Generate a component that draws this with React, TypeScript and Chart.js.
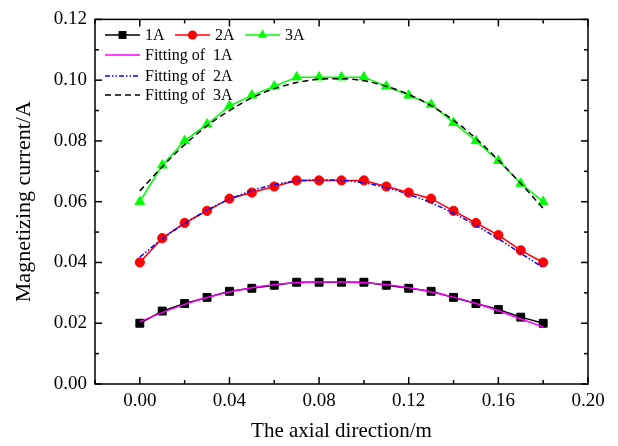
import React, { useEffect, useRef } from "react";
import { Chart, registerables } from "chart.js";

Chart.register(...registerables);

// ---- data ----
const positions = [0, 0.01, 0.02, 0.03, 0.04, 0.05, 0.06, 0.07, 0.08, 0.09, 0.1, 0.11, 0.12, 0.13, 0.14, 0.15, 0.16, 0.17, 0.18];

const current1A = [0.020, 0.024, 0.0265, 0.0285, 0.0305, 0.0315, 0.0325, 0.0335, 0.0335, 0.0335, 0.0335, 0.0325, 0.0315, 0.0305, 0.0285, 0.0265, 0.0245, 0.022, 0.020];
const current2A = [0.040, 0.048, 0.053, 0.057, 0.061, 0.063, 0.065, 0.067, 0.067, 0.067, 0.067, 0.065, 0.063, 0.061, 0.057, 0.053, 0.049, 0.044, 0.040];
const current3A = [0.060, 0.072, 0.080, 0.0855, 0.0915, 0.095, 0.098, 0.101, 0.101, 0.101, 0.101, 0.098, 0.095, 0.092, 0.086, 0.080, 0.0735, 0.066, 0.060];

const fit1A = [0.0205, 0.0235, 0.0262, 0.0285, 0.0303, 0.0317, 0.0327, 0.0333, 0.0336, 0.0336, 0.0333, 0.0327, 0.0317, 0.0303, 0.0286, 0.0265, 0.0241, 0.0214, 0.0188];
const fit2A = [0.0418, 0.0477, 0.0528, 0.0572, 0.0608, 0.0636, 0.0656, 0.0668, 0.0672, 0.0670, 0.0662, 0.0646, 0.0624, 0.0596, 0.0562, 0.0522, 0.0478, 0.0430, 0.0383];
const fit3A = [0.0635, 0.0715, 0.0788, 0.0850, 0.0900, 0.0942, 0.0972, 0.0992, 0.1003, 0.1005, 0.0998, 0.0980, 0.0953, 0.0916, 0.0868, 0.0808, 0.0737, 0.0660, 0.0578];

const xTickValues = [0, 0.04, 0.08, 0.12, 0.16, 0.2];
const xMinorValues = [-0.02, 0.02, 0.06, 0.1, 0.14, 0.18];
const yTickValues = [0, 0.02, 0.04, 0.06, 0.08, 0.1, 0.12];
const yMinorValues = [0.01, 0.03, 0.05, 0.07, 0.09, 0.11];

const FONT = "'Liberation Serif', 'Times New Roman', serif";

const toPoints = (vals: number[]) => positions.map((p, i) => ({ x: p, y: vals[i] }));

type LegendItem = { label: string; color: string; dash: number[]; marker?: string; radius?: number };

const legendRow1: LegendItem[] = [
  { label: "1A", color: "#000000", dash: [], marker: "rect", radius: 5.6 },
  { label: "2A", color: "#ff0000", dash: [], marker: "circle", radius: 4.6 },
  { label: "3A", color: "#00ff00", dash: [], marker: "triangle", radius: 5.5 },
];
const legendRows: LegendItem[] = [
  { label: "Fitting of  1A", color: "#ff00ff", dash: [] },
  { label: "Fitting of  2A", color: "#0000ff", dash: [5, 2, 1.5, 2, 1.5, 2] },
  { label: "Fitting of  3A", color: "#000000", dash: [6, 4] },
];

const framePlugin = {
  id: "frameTicks",
  afterDatasetsDraw(chart: any) {
    const { ctx, chartArea, scales } = chart;
    const { left, right, top, bottom } = chartArea;
    const x = scales.x;
    const y = scales.y;
    ctx.save();
    ctx.strokeStyle = "#000";
    ctx.lineWidth = 1.5;
    ctx.setLineDash([]);
    ctx.strokeRect(left, top, right - left, bottom - top);
    const line = (x1: number, y1: number, x2: number, y2: number) => {
      ctx.beginPath();
      ctx.moveTo(x1, y1);
      ctx.lineTo(x2, y2);
      ctx.stroke();
    };
    const major = 7;
    const minor = 4;
    xTickValues.forEach((v) => {
      const px = x.getPixelForValue(v);
      line(px, bottom, px, bottom - major);
      line(px, top, px, top + major);
    });
    xMinorValues.forEach((v) => {
      const px = x.getPixelForValue(v);
      line(px, bottom, px, bottom - minor);
      line(px, top, px, top + minor);
    });
    yTickValues.forEach((v) => {
      const py = y.getPixelForValue(v);
      line(left, py, left + major, py);
      line(right, py, right - major, py);
    });
    yMinorValues.forEach((v) => {
      const py = y.getPixelForValue(v);
      line(left, py, left + minor, py);
      line(right, py, right - minor, py);
    });
    ctx.restore();
  },
  afterDraw(chart: any) {
    const { ctx } = chart;
    ctx.save();
    ctx.font = `16px ${FONT}`;
    ctx.textBaseline = "middle";
    ctx.fillStyle = "#000";
    const lx1 = 105;
    const lineLen = 35;
    const drawSample = (item: LegendItem, x0: number, yy: number) => {
      ctx.strokeStyle = item.color;
      ctx.lineWidth = 1.5;
      ctx.setLineDash(item.dash);
      ctx.beginPath();
      ctx.moveTo(x0, yy);
      ctx.lineTo(x0 + lineLen, yy);
      ctx.stroke();
      ctx.setLineDash([]);
      if (item.marker) {
        ctx.fillStyle = item.color;
        const cx = x0 + lineLen / 2;
        const r = item.radius || 5;
        ctx.beginPath();
        if (item.marker === "rect") {
          const s = Math.SQRT1_2 * r;
          ctx.rect(cx - s, yy - s, 2 * s, 2 * s);
        } else if (item.marker === "circle") {
          ctx.arc(cx, yy, r, 0, Math.PI * 2);
        } else {
          ctx.moveTo(cx, yy - r);
          ctx.lineTo(cx + (r * Math.sqrt(3)) / 2, yy + r / 2);
          ctx.lineTo(cx - (r * Math.sqrt(3)) / 2, yy + r / 2);
          ctx.closePath();
        }
        ctx.fill();
      }
      ctx.fillStyle = "#000";
      ctx.fillText(item.label, x0 + lineLen + 5, yy + 1);
    };
    const row1X = [lx1, 175, 245];
    legendRow1.forEach((item, i) => drawSample(item, row1X[i], 35));
    const rowY = [55, 76, 95];
    legendRows.forEach((item, i) => drawSample(item, lx1, rowY[i]));
    ctx.restore();
  },
};

export default function App() {
  const canvasRef = useRef<HTMLCanvasElement | null>(null);

  useEffect(() => {
    document.body.style.margin = "0";
    const canvas = canvasRef.current;
    if (!canvas) return;

    const dataLine = (label: string, vals: number[], color: string, pointStyle: string, radius: number) => ({
      label,
      data: toPoints(vals),
      borderColor: color,
      backgroundColor: color,
      borderWidth: 1.5,
      pointStyle,
      pointRadius: radius,
      pointBorderWidth: 1,
      pointBackgroundColor: color,
      pointBorderColor: color,
      tension: 0,
      order: 2,
    });
    const fitLine = (label: string, vals: number[], color: string, dash: number[]) => ({
      label,
      data: toPoints(vals),
      borderColor: color,
      backgroundColor: color,
      borderWidth: 1.5,
      borderDash: dash,
      pointRadius: 0,
      cubicInterpolationMode: "monotone",
      order: 1,
    });

    const chart = new Chart(canvas, {
      type: "line",
      data: {
        datasets: [
          dataLine("1A", current1A, "#000000", "rect", 5.6),
          dataLine("2A", current2A, "#ff0000", "circle", 4.6),
          dataLine("3A", current3A, "#00ff00", "triangle", 5.5),
          fitLine("Fitting of  1A", fit1A, "#ff00ff", []),
          fitLine("Fitting of  2A", fit2A, "#0000ff", [5, 2, 1.5, 2, 1.5, 2]),
          fitLine("Fitting of  3A", fit3A, "#000000", [6, 4]),
        ] as any,
      },
      options: {
        animation: false,
        responsive: false,
        maintainAspectRatio: false,
        layout: { padding: { top: 17, right: 30, left: 0, bottom: 0 } },
        plugins: { legend: { display: false }, tooltip: { enabled: false } },
        scales: {
          x: {
            type: "linear",
            min: -0.02,
            max: 0.2,
            afterBuildTicks: (s: any) => {
              s.ticks = xTickValues.map((v) => ({ value: v }));
            },
            afterFit: (s: any) => {
              s.height = 62;
            },
            ticks: {
              callback: (v: any) => Number(v).toFixed(2),
              color: "#000",
              font: { family: FONT, size: 19 },
              padding: 6,
              maxRotation: 0,
              autoSkip: false,
            },
            grid: { display: false, drawTicks: false },
            border: { display: false },
            title: {
              display: true,
              text: "The axial direction/m",
              color: "#000",
              font: { family: FONT, size: 21 },
              padding: { top: 0, bottom: 2 },
            },
          },
          y: {
            type: "linear",
            min: 0,
            max: 0.12,
            afterBuildTicks: (s: any) => {
              s.ticks = yTickValues.map((v) => ({ value: v }));
            },
            afterFit: (s: any) => {
              s.width = 95;
            },
            ticks: {
              callback: (v: any) => Number(v).toFixed(2),
              color: "#000",
              font: { family: FONT, size: 19 },
              padding: 8,
            },
            grid: { display: false, drawTicks: false },
            border: { display: false },
            title: {
              display: true,
              text: "Magnetizing current/A",
              color: "#000",
              font: { family: FONT, size: 22 },
              padding: { top: 11, bottom: 0 },
            },
          },
        },
      },
      plugins: [framePlugin],
    });

    return () => chart.destroy();
  }, []);

  return (
    <div style={{ position: "absolute", left: 0, top: 0, width: 618, height: 446 }}>
      <canvas ref={canvasRef} width={618} height={446} style={{ width: 618, height: 446, display: "block" }} />
    </div>
  );
}
